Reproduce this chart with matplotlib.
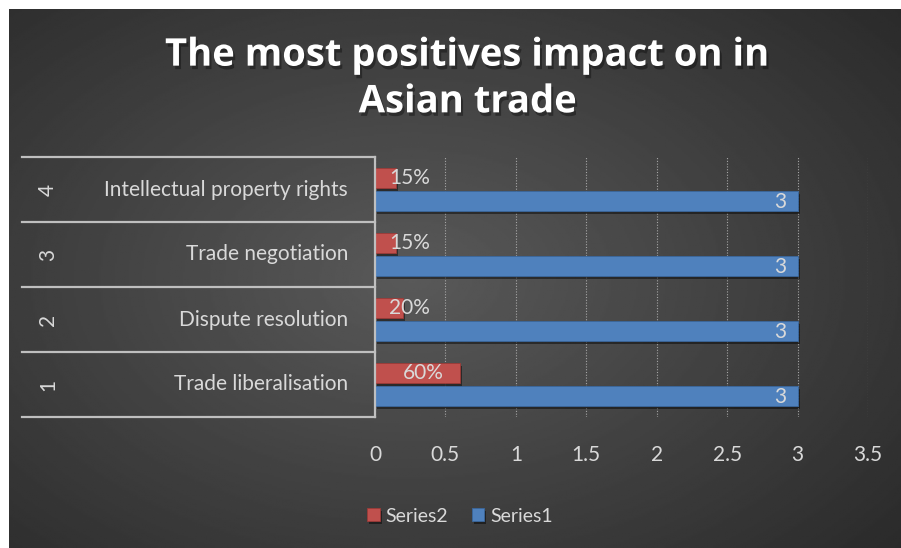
import numpy as np
import matplotlib.pyplot as plt
import matplotlib.patheffects as pe

categorias = ['Trade liberalisation', 'Dispute resolution', 'Trade negotiation',
              'Intellectual property rights']
numeros = ['1', '2', '3', '4']
series1 = [3, 3, 3, 3]
series2 = [0.60, 0.20, 0.15, 0.15]
rotulos2 = ['60%', '20%', '15%', '15%']
titulo = 'The most positives impact on in\nAsian trade'
xticks = [0, 0.5, 1, 1.5, 2, 2.5, 3, 3.5]

W, H = 901, 548
fig = plt.figure(figsize=(W / 100, H / 100), dpi=100)
fig.patch.set_facecolor('white')

# fundo escuro com gradiente radial
bg = fig.add_axes([9 / W, 0, 1 - 9 / W, 1 - 9 / H])
yy, xx = np.mgrid[0:1:300j, 0:1:500j]
r = np.sqrt(((xx - 0.45) / 0.75) ** 2 + ((yy - 0.5) / 0.8) ** 2)
grad = 0.35 - 0.19 * np.clip(r, 0, 1)
bg.imshow(grad, cmap='gray', vmin=0, vmax=1, aspect='auto', extent=[0, 1, 0, 1])
bg.axis('off')

fonte = 'Lato'
cinza = '#d9d9d9'

ax = fig.add_axes([375 / W, 1 - 417 / H, (868 - 375) / W, (417 - 157) / H])
ax.set_facecolor('none')
for s in ax.spines.values():
    s.set_visible(False)

y = np.arange(len(categorias))
altura = 0.3
sombra = [pe.SimplePatchShadow(offset=(1.5, -2), shadow_rgbFace='black', alpha=0.45), pe.Normal()]
b2 = ax.barh(y + 0.177, series2, altura, color='#c0504d', edgecolor='#9c3a37',
             linewidth=0.6, label='Series2', zorder=3)
b1 = ax.barh(y - 0.177, series1, altura, color='#4f81bd', edgecolor='#3a679d',
             linewidth=0.6, label='Series1', zorder=3)
for b in list(b1) + list(b2):
    b.set_path_effects(sombra)

ax.set_xlim(0, 3.5)
ax.set_ylim(-0.5, 3.5)
ax.set_xticks(xticks)
ax.set_xticklabels(['0', '0.5', '1', '1.5', '2', '2.5', '3', '3.5'])
ax.tick_params(axis='x', length=0, pad=20, labelcolor=cinza, labelsize=15)
for t in ax.get_xticklabels():
    t.set_fontfamily(fonte)
ax.set_yticks([])
ax.xaxis.grid(True, color='#a6a6a6', linestyle=(0, (1, 1.5)), linewidth=0.8, zorder=0)
ax.set_axisbelow(True)

# eixo vertical e caixas das categorias
ax.plot([0, 0], [-0.5, 3.5], color='#bfbfbf', linewidth=1.6, zorder=4, clip_on=False)
x0 = (22 - 375) / (868 - 375) * 3.5
for yl in np.arange(-0.5, 4, 1):
    ax.plot([x0, 0], [yl, yl], color='#bfbfbf', linewidth=1.6, clip_on=False, zorder=4)
for i in range(len(categorias)):
    ax.text(x0 + (348 - 22) / (868 - 375) * 3.5, y[i], categorias[i], ha='right', va='center',
            color=cinza, fontsize=15, family=fonte)
    ax.text(x0 + (48 - 22) / (868 - 375) * 3.5, y[i], numeros[i], ha='center', va='center',
            color=cinza, fontsize=15, family=fonte, rotation=90)

# rótulos de dados
for i in range(len(series2)):
    v = series2[i]
    if v > 0.4:
        ax.annotate(rotulos2[i], (v, y[i] + 0.177), xytext=(-11, 0), textcoords='offset points',
                    ha='right', va='center', color=cinza, fontsize=15, family=fonte, zorder=5)
    else:
        ax.annotate(rotulos2[i], (0, y[i] + 0.177), xytext=(10, 0), textcoords='offset points',
                    ha='left', va='center', color=cinza, fontsize=15, family=fonte, zorder=5)
for i in range(len(series1)):
    ax.annotate(str(series1[i]), (series1[i], y[i] - 0.177), xytext=(-8, -1), textcoords='offset points',
                ha='right', va='center', color=cinza, fontsize=15, family=fonte, zorder=5)

fig.text(468 / W, 1 - 79 / H, titulo, ha='center', va='center', color='white',
         fontsize=27.5, fontweight='bold', family='Open Sans', linespacing=1.3,
         path_effects=[pe.withSimplePatchShadow(offset=(1.5, -2.5), shadow_rgbFace='black', alpha=0.35)])

leg = fig.legend(handles=[b2, b1], loc='center', bbox_to_anchor=(460 / W, 1 - 516 / H), ncol=2,
                 frameon=False, prop={'family': fonte, 'size': 14}, handlelength=0.65,
                 handleheight=0.65, handletextpad=0.3, columnspacing=1.2)
for t in leg.get_texts():
    t.set_color(cinza)

fig.savefig('out.png', dpi=100, facecolor=fig.get_facecolor())
